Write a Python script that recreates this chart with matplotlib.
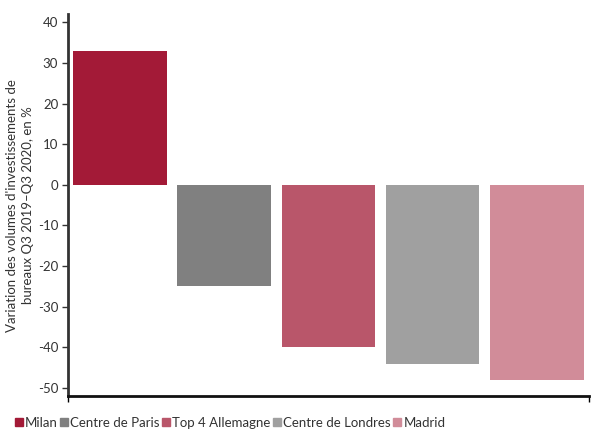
import matplotlib.pyplot as plt
from matplotlib.patches import Patch

plt.rcParams['font.family'] = ['Lato', 'DejaVu Sans']
plt.rcParams['axes.unicode_minus'] = False

villes = ['Milan', 'Centre de Paris', 'Top 4 Allemagne', 'Centre de Londres', 'Madrid']
variation = [33, -25, -40, -44, -48]
couleurs = ['#A31A37', '#808080', '#B9566A', '#A0A0A0', '#D18C99']

fig = plt.figure(figsize=(5.96, 4.3), dpi=100)
ax = fig.add_axes([0.114, 0.079, 0.874, 0.888])

ax.bar(range(len(villes)), variation, width=0.9, color=couleurs)
ax.set_xlim(-0.5, 4.5)
ax.set_ylim(-52, 42)
ax.set_yticks(range(-50, 41, 10))
ax.set_xticks([-0.5, 4.5])
ax.set_xticklabels(['', ''])
ax.tick_params(axis='y', labelsize=9.5, colors='#333333', length=4, width=1, pad=3)
ax.tick_params(axis='x', length=4, width=1)
for s in ['top', 'right']:
    ax.spines[s].set_visible(False)
ax.spines['left'].set_linewidth(2)
ax.spines['left'].set_color('#333333')
ax.spines['bottom'].set_linewidth(2)
ax.spines['bottom'].set_color('#111111')
ax.set_ylabel("Variation des volumes d'investissements de\nbureaux Q3 2019–Q3 2020, en %",
              fontsize=9.5, color='#333333', linespacing=1.4)
ax.yaxis.set_label_coords(-0.066, 0.5)

handles = [Patch(color=c, label=v) for v, c in zip(villes, couleurs)]
fig.legend(handles=handles, loc='lower left', bbox_to_anchor=(0.005, -0.025), ncol=5,
           frameon=False, fontsize=9.5, handlelength=0.6, handleheight=0.6,
           handletextpad=0.15, columnspacing=0.2, labelcolor='#333333')

fig.savefig('out.png', dpi=100)
